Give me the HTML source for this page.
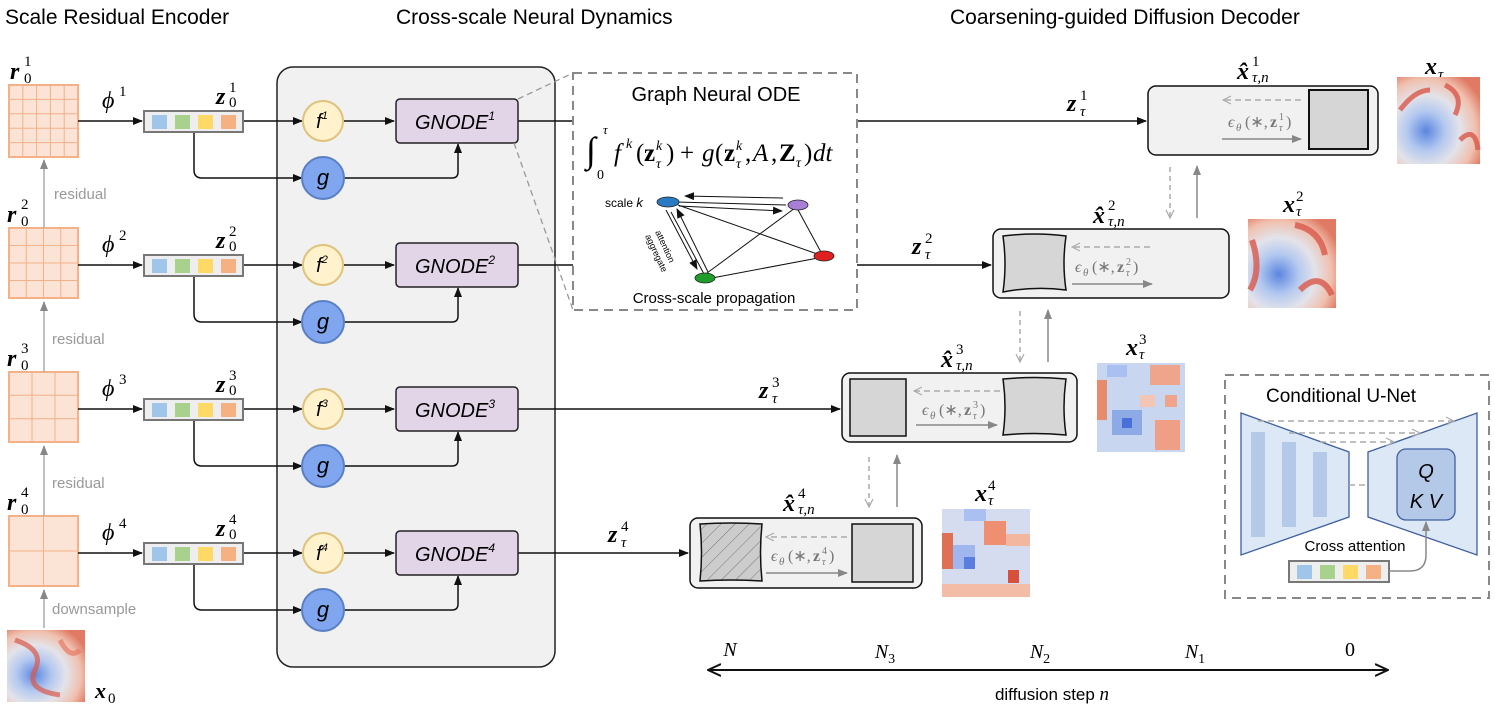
<!DOCTYPE html>
<html><head><meta charset="utf-8"><style>
html,body{margin:0;padding:0;background:#fff;}
svg{display:block;font-family:"Liberation Sans",sans-serif;}
.m{font-family:"Liberation Serif",serif;font-style:italic;font-weight:bold;}
.mi{font-family:"Liberation Serif",serif;font-style:italic;}
.s{font-family:"Liberation Serif",serif;font-size:15px;}
.e{font-family:"Liberation Serif",serif;fill:#777;}
</style></head><body>
<svg width="1495" height="718" viewBox="0 0 1495 718" xmlns="http://www.w3.org/2000/svg">
<defs>
<marker id="a" markerWidth="10" markerHeight="10" refX="9" refY="5" orient="auto" markerUnits="userSpaceOnUse"><path d="M0,1 L10,5 L0,9 Z" fill="#111"/></marker>
<marker id="ag" markerWidth="10" markerHeight="10" refX="9" refY="5" orient="auto" markerUnits="userSpaceOnUse"><path d="M0,1 L10,5 L0,9 Z" fill="#888"/></marker>
<marker id="ao" markerWidth="10" markerHeight="10" refX="9" refY="5" orient="auto" markerUnits="userSpaceOnUse"><path d="M1,1 L9,5 L1,9" fill="none" stroke="#aaa" stroke-width="1.2"/></marker>
<marker id="bk" markerWidth="14" markerHeight="14" refX="13" refY="7" orient="auto" markerUnits="userSpaceOnUse"><path d="M0,1 L13,7 L0,13" fill="none" stroke="#111" stroke-width="2"/></marker>
<radialGradient id="fl" cx="0.35" cy="0.62" r="0.75"><stop offset="0" stop-color="#5b86e0"/><stop offset="0.3" stop-color="#b3c8ef"/><stop offset="0.55" stop-color="#e3e3ea"/><stop offset="0.8" stop-color="#f0c0ae"/><stop offset="1" stop-color="#e07a64"/></radialGradient>
<pattern id="hatch" width="10" height="10" patternUnits="userSpaceOnUse" patternTransform="rotate(45)"><rect width="10" height="10" fill="#ccc"/><line x1="0" y1="0" x2="0" y2="10" stroke="#777" stroke-width="1"/></pattern>
</defs>

<text x="5" y="24" font-size="21">Scale Residual Encoder</text>
<text x="396" y="24" font-size="21">Cross-scale Neural Dynamics</text>
<text x="950" y="24" font-size="21">Coarsening-guided Diffusion Decoder</text>

<rect x="277" y="67" width="278" height="600" rx="16" fill="#f1f1f1" stroke="#222" stroke-width="1.5"/>

<g stroke="#f4b087" fill="#fbe3d6">
<rect x="9" y="85" width="69" height="72" stroke-width="2"/>
<rect x="9" y="228" width="69" height="70" stroke-width="2"/>
<rect x="9" y="372" width="69" height="70" stroke-width="2"/>
<rect x="9" y="516" width="69" height="70" stroke-width="2"/>
</g>
<g stroke="#f4b087" stroke-width="1">
<path d="M22.8,85V157M36.6,85V157M50.4,85V157M64.2,85V157M9,99.4H78M9,113.8H78M9,128.2H78M9,142.6H78"/>
<path d="M26.25,228V298M43.5,228V298M60.75,228V298M9,245.5H78M9,263H78M9,280.5H78"/>
<path d="M32,372V442M55,372V442M9,395.3H78M9,418.7H78"/>
<path d="M43.5,516V586M9,551H78"/>
</g>
<g font-size="24">
<text x="10" y="79" class="m">r</text><text x="24" y="66" class="s">1</text><text x="24" y="83" class="s">0</text>
<text x="7" y="222" class="m">r</text><text x="21" y="209" class="s">2</text><text x="21" y="226" class="s">0</text>
<text x="7" y="366" class="m">r</text><text x="21" y="353" class="s">3</text><text x="21" y="370" class="s">0</text>
<text x="7" y="510" class="m">r</text><text x="21" y="497" class="s">4</text><text x="21" y="514" class="s">0</text>
</g>
<g stroke="#aaa" stroke-width="1.5" marker-end="url(#ag)">
<line x1="44" y1="228" x2="44" y2="160"/>
<line x1="44" y1="372" x2="44" y2="302"/>
<line x1="44" y1="516" x2="44" y2="446"/>
<line x1="44" y1="628" x2="44" y2="590"/>
</g>
<g fill="#999" font-size="15">
<text x="54" y="199">residual</text>
<text x="52" y="344">residual</text>
<text x="52" y="488">residual</text>
<text x="52" y="614">downsample</text>
</g>
<rect x="7" y="630" width="78" height="72" fill="url(#fl)"/>
<path d="M15,640 q30,10 20,30 q-10,20 25,25" stroke="#d9584a" stroke-width="5" fill="none" opacity="0.7"/>
<path d="M60,640 q10,20 20,10" stroke="#e57a64" stroke-width="5" fill="none" opacity="0.7"/>
<text x="95" y="698" font-size="22" class="m">x</text><text x="108" y="703" class="s" font-size="14">0</text>

<g font-size="24">
<text x="102" y="108" class="mi">ϕ</text><text x="119" y="96" class="s">1</text>
<text x="102" y="252" class="mi">ϕ</text><text x="119" y="240" class="s">2</text>
<text x="102" y="396" class="mi">ϕ</text><text x="119" y="384" class="s">3</text>
<text x="102" y="540" class="mi">ϕ</text><text x="119" y="528" class="s">4</text>
<text x="216" y="104" class="m">z</text><text x="229" y="92" class="s">1</text><text x="229" y="107" class="s">0</text>
<text x="216" y="248" class="m">z</text><text x="229" y="236" class="s">2</text><text x="229" y="251" class="s">0</text>
<text x="216" y="392" class="m">z</text><text x="229" y="380" class="s">3</text><text x="229" y="395" class="s">0</text>
<text x="216" y="536" class="m">z</text><text x="229" y="524" class="s">4</text><text x="229" y="539" class="s">0</text>
</g>

<g stroke="#111" stroke-width="1.5" fill="none">
<line x1="78" y1="121" x2="142" y2="121" marker-end="url(#a)"/>
<line x1="78" y1="265" x2="142" y2="265" marker-end="url(#a)"/>
<line x1="78" y1="409" x2="142" y2="409" marker-end="url(#a)"/>
<line x1="78" y1="553" x2="142" y2="553" marker-end="url(#a)"/>
<line x1="244" y1="121" x2="302" y2="121" marker-end="url(#a)"/>
<line x1="244" y1="265" x2="302" y2="265" marker-end="url(#a)"/>
<line x1="244" y1="409" x2="302" y2="409" marker-end="url(#a)"/>
<line x1="244" y1="553" x2="302" y2="553" marker-end="url(#a)"/>
<path d="M194,132 V170 q0,8 8,8 H302" marker-end="url(#a)"/>
<path d="M194,276 V314 q0,8 8,8 H302" marker-end="url(#a)"/>
<path d="M194,420 V458 q0,8 8,8 H302" marker-end="url(#a)"/>
<path d="M194,564 V602 q0,8 8,8 H302" marker-end="url(#a)"/>
<line x1="344" y1="121" x2="394" y2="121" marker-end="url(#a)"/>
<line x1="344" y1="265" x2="394" y2="265" marker-end="url(#a)"/>
<line x1="344" y1="409" x2="394" y2="409" marker-end="url(#a)"/>
<line x1="344" y1="553" x2="394" y2="553" marker-end="url(#a)"/>
<path d="M344,178 H452 q6,0 6,-6 V144" marker-end="url(#a)"/>
<path d="M344,322 H452 q6,0 6,-6 V288" marker-end="url(#a)"/>
<path d="M344,466 H452 q6,0 6,-6 V432" marker-end="url(#a)"/>
<path d="M344,610 H452 q6,0 6,-6 V576" marker-end="url(#a)"/>
<line x1="518" y1="121" x2="573" y2="121"/>
<line x1="857" y1="121" x2="1146" y2="121" marker-end="url(#a)"/>
<line x1="518" y1="265" x2="573" y2="265"/>
<line x1="857" y1="265" x2="991" y2="265" marker-end="url(#a)"/>
<line x1="518" y1="409" x2="840" y2="409" marker-end="url(#a)"/>
<line x1="518" y1="553" x2="688" y2="553" marker-end="url(#a)"/>
</g>

<g>
<g transform="translate(144,111)"><rect width="99" height="21" fill="#eee" stroke="#777" stroke-width="2"/><rect x="8" y="4" width="15" height="14" fill="#9fc5e8"/><rect x="31" y="4" width="15" height="14" fill="#a9d18e"/><rect x="54" y="4" width="15" height="14" fill="#ffd966"/><rect x="77" y="4" width="15" height="14" fill="#f4b183"/></g>
<g transform="translate(144,255)"><rect width="99" height="21" fill="#eee" stroke="#777" stroke-width="2"/><rect x="8" y="4" width="15" height="14" fill="#9fc5e8"/><rect x="31" y="4" width="15" height="14" fill="#a9d18e"/><rect x="54" y="4" width="15" height="14" fill="#ffd966"/><rect x="77" y="4" width="15" height="14" fill="#f4b183"/></g>
<g transform="translate(144,399)"><rect width="99" height="21" fill="#eee" stroke="#777" stroke-width="2"/><rect x="8" y="4" width="15" height="14" fill="#9fc5e8"/><rect x="31" y="4" width="15" height="14" fill="#a9d18e"/><rect x="54" y="4" width="15" height="14" fill="#ffd966"/><rect x="77" y="4" width="15" height="14" fill="#f4b183"/></g>
<g transform="translate(144,543)"><rect width="99" height="21" fill="#eee" stroke="#777" stroke-width="2"/><rect x="8" y="4" width="15" height="14" fill="#9fc5e8"/><rect x="31" y="4" width="15" height="14" fill="#a9d18e"/><rect x="54" y="4" width="15" height="14" fill="#ffd966"/><rect x="77" y="4" width="15" height="14" fill="#f4b183"/></g>
</g>

<g font-size="20" font-style="italic" text-anchor="middle">
<circle cx="323" cy="121" r="20" fill="#fff2cc" stroke="#e0c27a" stroke-width="2"/><text x="322" y="128">f<tspan font-size="11" dy="-9">1</tspan></text>
<circle cx="323" cy="265" r="20" fill="#fff2cc" stroke="#e0c27a" stroke-width="2"/><text x="322" y="272">f<tspan font-size="11" dy="-9">2</tspan></text>
<circle cx="323" cy="409" r="20" fill="#fff2cc" stroke="#e0c27a" stroke-width="2"/><text x="322" y="416">f<tspan font-size="11" dy="-9">3</tspan></text>
<circle cx="323" cy="553" r="20" fill="#fff2cc" stroke="#e0c27a" stroke-width="2"/><text x="322" y="560">f<tspan font-size="11" dy="-9">4</tspan></text>
<circle cx="323" cy="178" r="21" fill="#7fa6ef" stroke="#5a7fc6" stroke-width="2"/><text x="323" y="185" font-size="22">g</text>
<circle cx="323" cy="322" r="21" fill="#7fa6ef" stroke="#5a7fc6" stroke-width="2"/><text x="323" y="329" font-size="22">g</text>
<circle cx="323" cy="466" r="21" fill="#7fa6ef" stroke="#5a7fc6" stroke-width="2"/><text x="323" y="473" font-size="22">g</text>
<circle cx="323" cy="610" r="21" fill="#7fa6ef" stroke="#5a7fc6" stroke-width="2"/><text x="323" y="617" font-size="22">g</text>
<rect x="396" y="99" width="122" height="44" rx="4" fill="#e2d5e8" stroke="#222" stroke-width="1.5"/><text x="455" y="129" font-size="20">GNODE<tspan font-size="12" dy="-9">1</tspan></text>
<rect x="396" y="243" width="122" height="44" rx="4" fill="#e2d5e8" stroke="#222" stroke-width="1.5"/><text x="455" y="273" font-size="20">GNODE<tspan font-size="12" dy="-9">2</tspan></text>
<rect x="396" y="387" width="122" height="44" rx="4" fill="#e2d5e8" stroke="#222" stroke-width="1.5"/><text x="455" y="417" font-size="20">GNODE<tspan font-size="12" dy="-9">3</tspan></text>
<rect x="396" y="531" width="122" height="44" rx="4" fill="#e2d5e8" stroke="#222" stroke-width="1.5"/><text x="455" y="561" font-size="20">GNODE<tspan font-size="12" dy="-9">4</tspan></text>
</g>

<line x1="518" y1="99" x2="573" y2="73" stroke="#999" stroke-width="1.3" stroke-dasharray="6,4"/>
<line x1="514" y1="143" x2="573" y2="310" stroke="#999" stroke-width="1.3" stroke-dasharray="6,4"/>
<rect x="573" y="73" width="284" height="237" fill="#fff" stroke="#888" stroke-width="2" stroke-dasharray="9,6"/>
<text x="716" y="101" font-size="20" text-anchor="middle">Graph Neural ODE</text>
<g font-family="Liberation Serif" font-size="25">
<text x="586" y="162" font-size="36">∫</text>
<text x="603" y="134" font-size="13" class="mi">τ</text>
<text x="597" y="179" font-size="14">0</text>
<text x="614" y="161" class="mi">f</text><text x="626" y="148" font-size="14" class="mi">k</text>
<text x="636" y="161">(</text><text x="644" y="161" font-weight="bold">z</text><text x="656" y="150" font-size="14" class="mi">k</text><text x="656" y="168" font-size="14" class="mi">τ</text><text x="666" y="161">)</text>
<text x="680" y="161">+</text>
<text x="702" y="161" class="mi">g</text><text x="715" y="161">(</text><text x="724" y="161" font-weight="bold">z</text><text x="736" y="150" font-size="14" class="mi">k</text><text x="736" y="168" font-size="14" class="mi">τ</text><text x="745" y="161">,</text>
<text x="753" y="161" class="mi">A</text><text x="771" y="161">,</text><text x="779" y="161" font-weight="bold">Z</text><text x="796" y="167" font-size="14" class="mi">τ</text><text x="804" y="161">)</text><text x="813" y="161" class="mi">dt</text>
</g>
<g stroke="#111" stroke-width="1" fill="none">
<line x1="783" y1="198" x2="685" y2="196" marker-end="url(#a)"/>
<line x1="679" y1="206" x2="782" y2="211" marker-end="url(#a)"/>
<line x1="676" y1="202" x2="786" y2="205"/>
<line x1="678" y1="205" x2="823" y2="256"/>
<line x1="795" y1="208" x2="703" y2="276"/>
<line x1="797" y1="208" x2="822" y2="254"/>
<line x1="712" y1="278" x2="818" y2="258"/>
<line x1="666" y1="210" x2="697" y2="269" marker-end="url(#a)"/>
<line x1="708" y1="272" x2="677" y2="209" marker-end="url(#a)"/>
<line x1="671" y1="212" x2="704" y2="274"/>
</g>
<ellipse cx="668" cy="202" rx="11" ry="5" fill="#2b7bc4" stroke="#222" stroke-width="0.8"/>
<ellipse cx="798" cy="205" rx="10" ry="5" fill="#a77fd6" stroke="#222" stroke-width="0.8"/>
<ellipse cx="824" cy="256" rx="10" ry="5" fill="#e02020" stroke="#222" stroke-width="0.8"/>
<ellipse cx="705" cy="278" rx="10" ry="5" fill="#1f9d2a" stroke="#222" stroke-width="0.8"/>
<text x="605" y="207" font-size="12">scale <tspan font-style="italic" font-size="13">k</tspan></text>
<text transform="translate(655,232) rotate(65)" font-size="9">attention</text>
<text transform="translate(645,236) rotate(65)" font-size="9">aggregate</text>
<text x="714" y="303" font-size="15" text-anchor="middle">Cross-scale propagation</text>

<g stroke="#111" stroke-width="1.5">
<rect x="1148" y="86" width="230" height="69" rx="8" fill="#f1f1f1"/>
<rect x="1309" y="90" width="59" height="59" fill="#d6d6d6" stroke-width="2"/>
<rect x="993" y="229" width="236" height="69" rx="8" fill="#f1f1f1"/>
<path d="M1003,236 q32,-4 63,0 q-4,27 0,54 q-32,-4 -63,2 q4,-28 0,-56z" fill="#d6d6d6"/>
<rect x="842" y="373" width="235" height="69" rx="8" fill="#f1f1f1"/>
<rect x="850" y="379" width="56" height="57" fill="#d6d6d6"/>
<path d="M1003,379 q32,-3 63,0 q-4,28 0,56 q-32,-3 -63,0 q4,-28 0,-56z" fill="#d6d6d6"/>
<rect x="690" y="518" width="232" height="70" rx="8" fill="#f1f1f1"/>
<path d="M700,524 q31,-2 62,0 q-3,28 0,57 q-31,-2 -62,0 q3,-28 0,-57z" fill="url(#hatch)"/>
<rect x="852" y="524" width="61" height="58" fill="#d6d6d6"/>
</g>
<g stroke-width="1.5">
<line x1="1301" y1="100" x2="1223" y2="100" stroke="#aaa" stroke-dasharray="6,4" marker-end="url(#ao)"/>
<line x1="1222" y1="139" x2="1301" y2="139" stroke="#888" marker-end="url(#ag)"/>
<line x1="1150" y1="247" x2="1072" y2="247" stroke="#aaa" stroke-dasharray="6,4" marker-end="url(#ao)"/>
<line x1="1072" y1="284" x2="1152" y2="284" stroke="#888" marker-end="url(#ag)"/>
<line x1="1000" y1="391" x2="914" y2="391" stroke="#aaa" stroke-dasharray="6,4" marker-end="url(#ao)"/>
<line x1="916" y1="425" x2="997" y2="425" stroke="#888" marker-end="url(#ag)"/>
<line x1="847" y1="537" x2="766" y2="537" stroke="#aaa" stroke-dasharray="6,4" marker-end="url(#ao)"/>
<line x1="766" y1="573" x2="847" y2="573" stroke="#888" marker-end="url(#ag)"/>
<line x1="1170" y1="167" x2="1170" y2="218" stroke="#aaa" stroke-dasharray="5,4" marker-end="url(#ao)"/>
<line x1="1197" y1="218" x2="1197" y2="166" stroke="#888" marker-end="url(#ag)"/>
<line x1="1020" y1="311" x2="1020" y2="362" stroke="#aaa" stroke-dasharray="5,4" marker-end="url(#ao)"/>
<line x1="1048" y1="362" x2="1048" y2="310" stroke="#888" marker-end="url(#ag)"/>
<line x1="869" y1="457" x2="869" y2="507" stroke="#aaa" stroke-dasharray="5,4" marker-end="url(#ao)"/>
<line x1="897" y1="507" x2="897" y2="455" stroke="#888" marker-end="url(#ag)"/>
</g>
<!-- epsilon labels -->
<g class="e" font-size="16">
<g transform="translate(1228,127)"><text x="0" y="0" class="mi">ϵ</text><text x="8" y="4" font-size="11" class="mi">θ</text><text x="17" y="0">(∗,</text><text x="42" y="0" font-weight="bold">z</text><text x="51" y="-7" font-size="10">1</text><text x="51" y="4" font-size="10" class="mi">τ</text><text x="58" y="0">)</text></g>
<g transform="translate(1075,272)"><text x="0" y="0" class="mi">ϵ</text><text x="8" y="4" font-size="11" class="mi">θ</text><text x="17" y="0">(∗,</text><text x="42" y="0" font-weight="bold">z</text><text x="51" y="-7" font-size="10">2</text><text x="51" y="4" font-size="10" class="mi">τ</text><text x="58" y="0">)</text></g>
<g transform="translate(922,415)"><text x="0" y="0" class="mi">ϵ</text><text x="8" y="4" font-size="11" class="mi">θ</text><text x="17" y="0">(∗,</text><text x="42" y="0" font-weight="bold">z</text><text x="51" y="-7" font-size="10">3</text><text x="51" y="4" font-size="10" class="mi">τ</text><text x="58" y="0">)</text></g>
<g transform="translate(771,561)"><text x="0" y="0" class="mi">ϵ</text><text x="8" y="4" font-size="11" class="mi">θ</text><text x="17" y="0">(∗,</text><text x="42" y="0" font-weight="bold">z</text><text x="51" y="-7" font-size="10">4</text><text x="51" y="4" font-size="10" class="mi">τ</text><text x="58" y="0">)</text></g>
</g>

<g font-size="24">
<text x="1067" y="111" class="m">z</text><text x="1080" y="100" class="s">1</text><text x="1080" y="116" class="s mi">τ</text>
<text x="912" y="254" class="m">z</text><text x="925" y="243" class="s">2</text><text x="925" y="259" class="s mi">τ</text>
<text x="759" y="398" class="m">z</text><text x="772" y="387" class="s">3</text><text x="772" y="403" class="s mi">τ</text>
<text x="608" y="542" class="m">z</text><text x="621" y="531" class="s">4</text><text x="621" y="547" class="s mi">τ</text>
<text x="1237" y="79" class="m">x̂</text><text x="1252" y="66" class="s">1</text><text x="1252" y="82" class="s mi">τ,n</text>
<text x="1093" y="223" class="m">x̂</text><text x="1108" y="210" class="s">2</text><text x="1108" y="226" class="s mi">τ,n</text>
<text x="941" y="367" class="m">x̂</text><text x="956" y="354" class="s">3</text><text x="956" y="370" class="s mi">τ,n</text>
<text x="783" y="511" class="m">x̂</text><text x="798" y="498" class="s">4</text><text x="798" y="514" class="s mi">τ,n</text>
<text x="1425" y="74" class="m">x</text><text x="1438" y="79" class="s mi">τ</text>
<text x="1283" y="212" class="m">x</text><text x="1296" y="201" class="s">2</text><text x="1296" y="216" class="s mi">τ</text>
<text x="1126" y="355" class="m">x</text><text x="1139" y="344" class="s">3</text><text x="1139" y="359" class="s mi">τ</text>
<text x="975" y="501" class="m">x</text><text x="988" y="490" class="s">4</text><text x="988" y="505" class="s mi">τ</text>
</g>

<rect x="1397" y="77" width="83" height="87" fill="url(#fl)"/>
<path d="M1445,85 q20,10 10,30 M1460,140 q15,-15 18,10 M1400,110 q15,-20 30,-20" stroke="#d9584a" stroke-width="5" fill="none" opacity="0.8"/>
<rect x="1248" y="219" width="88" height="89" fill="url(#fl)"/>
<path d="M1295,225 q25,5 30,30 M1300,290 q20,-20 32,5 M1252,240 q10,30 -2,50" stroke="#d9584a" stroke-width="6" fill="none" opacity="0.8"/>
<g>
<rect x="1097" y="363" width="88" height="89" fill="#c9d6ef"/>
<rect x="1097" y="380" width="10" height="40" fill="#e88a6c"/>
<rect x="1150" y="365" width="30" height="20" fill="#eea58c"/>
<rect x="1112" y="410" width="30" height="25" fill="#8eaae6"/>
<rect x="1122" y="418" width="10" height="10" fill="#4a6fd8"/>
<rect x="1155" y="420" width="25" height="30" fill="#ee9f85"/>
<rect x="1140" y="395" width="15" height="12" fill="#f2c5b4"/>
<rect x="1165" y="395" width="12" height="12" fill="#f0a48c"/>
<rect x="1107" y="365" width="20" height="12" fill="#a9c0f1"/>
</g>
<g>
<rect x="942" y="509" width="88" height="88" fill="#d5dcef"/>
<rect x="942" y="533" width="11" height="36" fill="#e07055"/>
<rect x="984" y="521" width="22" height="24" fill="#ee8f72"/>
<rect x="953" y="545" width="22" height="24" fill="#9fb7ee"/>
<rect x="964" y="557" width="11" height="12" fill="#5a7ee0"/>
<rect x="1008" y="570" width="11" height="13" fill="#d6503c"/>
<rect x="1006" y="534" width="24" height="12" fill="#f3b7a0"/>
<rect x="964" y="509" width="22" height="12" fill="#a9c0f1"/>
<rect x="942" y="584" width="88" height="13" fill="#f2bca6"/>
</g>

<rect x="1225" y="375" width="264" height="223" fill="#fff" stroke="#888" stroke-width="2" stroke-dasharray="9,6"/>
<text x="1341" y="402" font-size="19" text-anchor="middle">Conditional U-Net</text>
<path d="M1241,413 L1349,452 L1349,517 L1241,555 Z" fill="#dce8f6" stroke="#3f5fa0" stroke-width="1.3"/>
<path d="M1368,452 L1477,413 L1477,555 L1368,517 Z" fill="#dce8f6" stroke="#3f5fa0" stroke-width="1.3"/>
<rect x="1251" y="432" width="14" height="105" fill="#b4c8e8"/>
<rect x="1282" y="442" width="14" height="85" fill="#b4c8e8"/>
<rect x="1313" y="452" width="14" height="65" fill="#b4c8e8"/>
<g stroke="#aaa" stroke-width="1.5" stroke-dasharray="6,4">
<line x1="1258" y1="421" x2="1454" y2="421" marker-end="url(#ao)"/>
<line x1="1289" y1="433" x2="1420" y2="433" marker-end="url(#ao)"/>
<line x1="1320" y1="442" x2="1394" y2="442" marker-end="url(#ao)"/>
<line x1="1349" y1="485" x2="1368" y2="485"/>
</g>
<rect x="1397" y="449" width="58" height="71" rx="9" fill="#b4c8e8" stroke="#3f5fa0" stroke-width="1.3"/>
<text x="1426" y="478" font-size="20" font-style="italic" text-anchor="middle">Q</text>
<text x="1426" y="508" font-size="20" font-style="italic" text-anchor="middle">K V</text>
<text x="1355" y="551" font-size="15" text-anchor="middle">Cross attention</text>
<g transform="translate(1289,561)"><rect width="100" height="21" fill="#eee" stroke="#777" stroke-width="2"/><rect x="8" y="4" width="15" height="14" fill="#9fc5e8"/><rect x="31" y="4" width="15" height="14" fill="#a9d18e"/><rect x="54" y="4" width="15" height="14" fill="#ffd966"/><rect x="77" y="4" width="15" height="14" fill="#f4b183"/></g>
<path d="M1389,571 H1410 q16,0 16,-16 V522" stroke="#888" stroke-width="1.5" fill="none" marker-end="url(#ag)"/>

<line x1="708" y1="670" x2="1388" y2="670" stroke="#111" stroke-width="2" marker-end="url(#bk)"/>
<line x1="1388" y1="670" x2="708" y2="670" stroke="#111" stroke-width="2" marker-end="url(#bk)"/>
<g font-family="Liberation Serif" font-size="20" text-anchor="middle">
<text x="730" y="656" class="mi">N</text>
<text x="885" y="658"><tspan class="mi">N</tspan><tspan font-size="14" dy="5">3</tspan></text>
<text x="1040" y="658"><tspan class="mi">N</tspan><tspan font-size="14" dy="5">2</tspan></text>
<text x="1195" y="658"><tspan class="mi">N</tspan><tspan font-size="14" dy="5">1</tspan></text>
<text x="1350" y="656">0</text>
</g>
<text x="1052" y="700" font-size="17" text-anchor="middle">diffusion step <tspan font-family="Liberation Serif" font-style="italic" font-size="19">n</tspan></text>
</svg>
</body></html>
